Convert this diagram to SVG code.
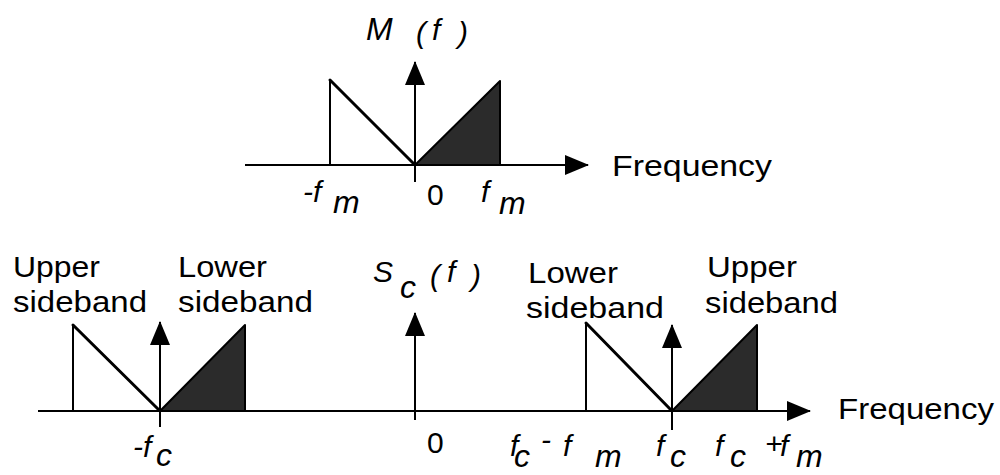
<svg xmlns="http://www.w3.org/2000/svg" width="1000" height="475" viewBox="0 0 1000 475">
<style>
.ax{stroke:#000;stroke-width:2;fill:none}
.vt{stroke:#000;stroke-width:2;fill:none}
.dg{stroke:#000;stroke-width:3;fill:none;stroke-linecap:round}
.sb{fill:#2b2b2b;stroke:#000;stroke-width:2;stroke-linejoin:round}
.lb{font-family:"Liberation Sans",Arial,sans-serif;font-size:30px;fill:#000}
.mt{font-family:"Liberation Sans",Arial,sans-serif;font-size:30px;font-style:italic;fill:#000}
.sub{font-size:32px}
</style>
<defs>
<marker id="ah" markerUnits="userSpaceOnUse" markerWidth="24" markerHeight="20" refX="23" refY="10" orient="auto">
<path d="M0,0 L24,10 L0,20 z" fill="#000"/>
</marker>
</defs>
<rect width="1000" height="475" fill="#fff"/>
<g id="connectors">
<line class="ax" x1="245" y1="165" x2="588" y2="165" marker-end="url(#ah)"/>
<line class="ax" x1="415" y1="182" x2="415" y2="62" marker-end="url(#ah)"/>
<line class="ax" x1="38" y1="411" x2="810" y2="411" marker-end="url(#ah)"/>
<line class="ax" x1="160" y1="427" x2="160" y2="322" marker-end="url(#ah)"/>
<line class="ax" x1="415" y1="420" x2="415" y2="313" marker-end="url(#ah)"/>
<line class="ax" x1="672" y1="430" x2="672" y2="325" marker-end="url(#ah)"/>
</g>
<g id="baseband">
<line class="vt" x1="330" y1="165" x2="330" y2="80"/>
<line class="dg" x1="330" y1="80" x2="415" y2="165"/>
<polygon class="sb" points="415,165 500,81 500,165"/>
<text class="mt"><tspan x="366" y="40" font-size="32">M</tspan><tspan x="416" y="43">(</tspan><tspan x="432" y="40">f</tspan><tspan x="458" y="43">)</tspan></text>
<text class="lb" x="612" y="176" textLength="160" lengthAdjust="spacingAndGlyphs">Frequency</text>
<text class="mt"><tspan x="303" y="202">-f</tspan><tspan class="sub" x="333" y="213">m</tspan></text>
<text class="lb" x="427" y="205">0</text>
<text class="mt"><tspan x="481" y="202">f</tspan><tspan class="sub" x="499" y="214">m</tspan></text>
</g>
<g id="negative-band">
<line class="vt" x1="73" y1="411" x2="73" y2="325"/>
<line class="dg" x1="73" y1="325" x2="160" y2="411"/>
<polygon class="sb" points="160,411 245,325 245,411"/>
<text class="lb" x="13" y="277" textLength="87" lengthAdjust="spacingAndGlyphs">Upper</text>
<text class="lb" x="13" y="312" textLength="134" lengthAdjust="spacingAndGlyphs">sideband</text>
<text class="lb" x="178" y="277" textLength="89" lengthAdjust="spacingAndGlyphs">Lower</text>
<text class="lb" x="178" y="312" textLength="135" lengthAdjust="spacingAndGlyphs">sideband</text>
<text class="mt"><tspan x="133" y="457">-f</tspan><tspan class="sub" x="156" y="466">c</tspan></text>
</g>
<g id="carrier">
<text class="mt"><tspan x="373" y="282">S</tspan><tspan class="sub" x="400" y="298">c</tspan><tspan x="430" y="286">(</tspan><tspan x="447" y="282">f</tspan><tspan x="471" y="286">)</tspan></text>
<text class="lb" x="427" y="453">0</text>
</g>
<g id="positive-band">
<line class="vt" x1="586" y1="411" x2="586" y2="323"/>
<line class="dg" x1="586" y1="323" x2="672" y2="411"/>
<polygon class="sb" points="672,411 757,325 757,411"/>
<text class="lb" x="528" y="283" textLength="90" lengthAdjust="spacingAndGlyphs">Lower</text>
<text class="lb" x="526" y="318" textLength="138" lengthAdjust="spacingAndGlyphs">sideband</text>
<text class="lb" x="707" y="277" textLength="90" lengthAdjust="spacingAndGlyphs">Upper</text>
<text class="lb" x="705" y="313" textLength="133" lengthAdjust="spacingAndGlyphs">sideband</text>
<text class="lb" x="838" y="419" textLength="156" lengthAdjust="spacingAndGlyphs">Frequency</text>
<text class="mt"><tspan x="510" y="456">f</tspan><tspan class="sub" x="514" y="467">c</tspan><tspan x="541" y="450">-</tspan><tspan x="563" y="456">f</tspan><tspan class="sub" x="595" y="467">m</tspan></text>
<text class="mt"><tspan x="656" y="456">f</tspan><tspan class="sub" x="670" y="467">c</tspan></text>
<text class="mt"><tspan x="715" y="456">f</tspan><tspan class="sub" x="730" y="467">c</tspan><tspan x="765" y="454">+</tspan><tspan x="780" y="456">f</tspan><tspan class="sub" x="796" y="467">m</tspan></text>
</g>
</svg>
